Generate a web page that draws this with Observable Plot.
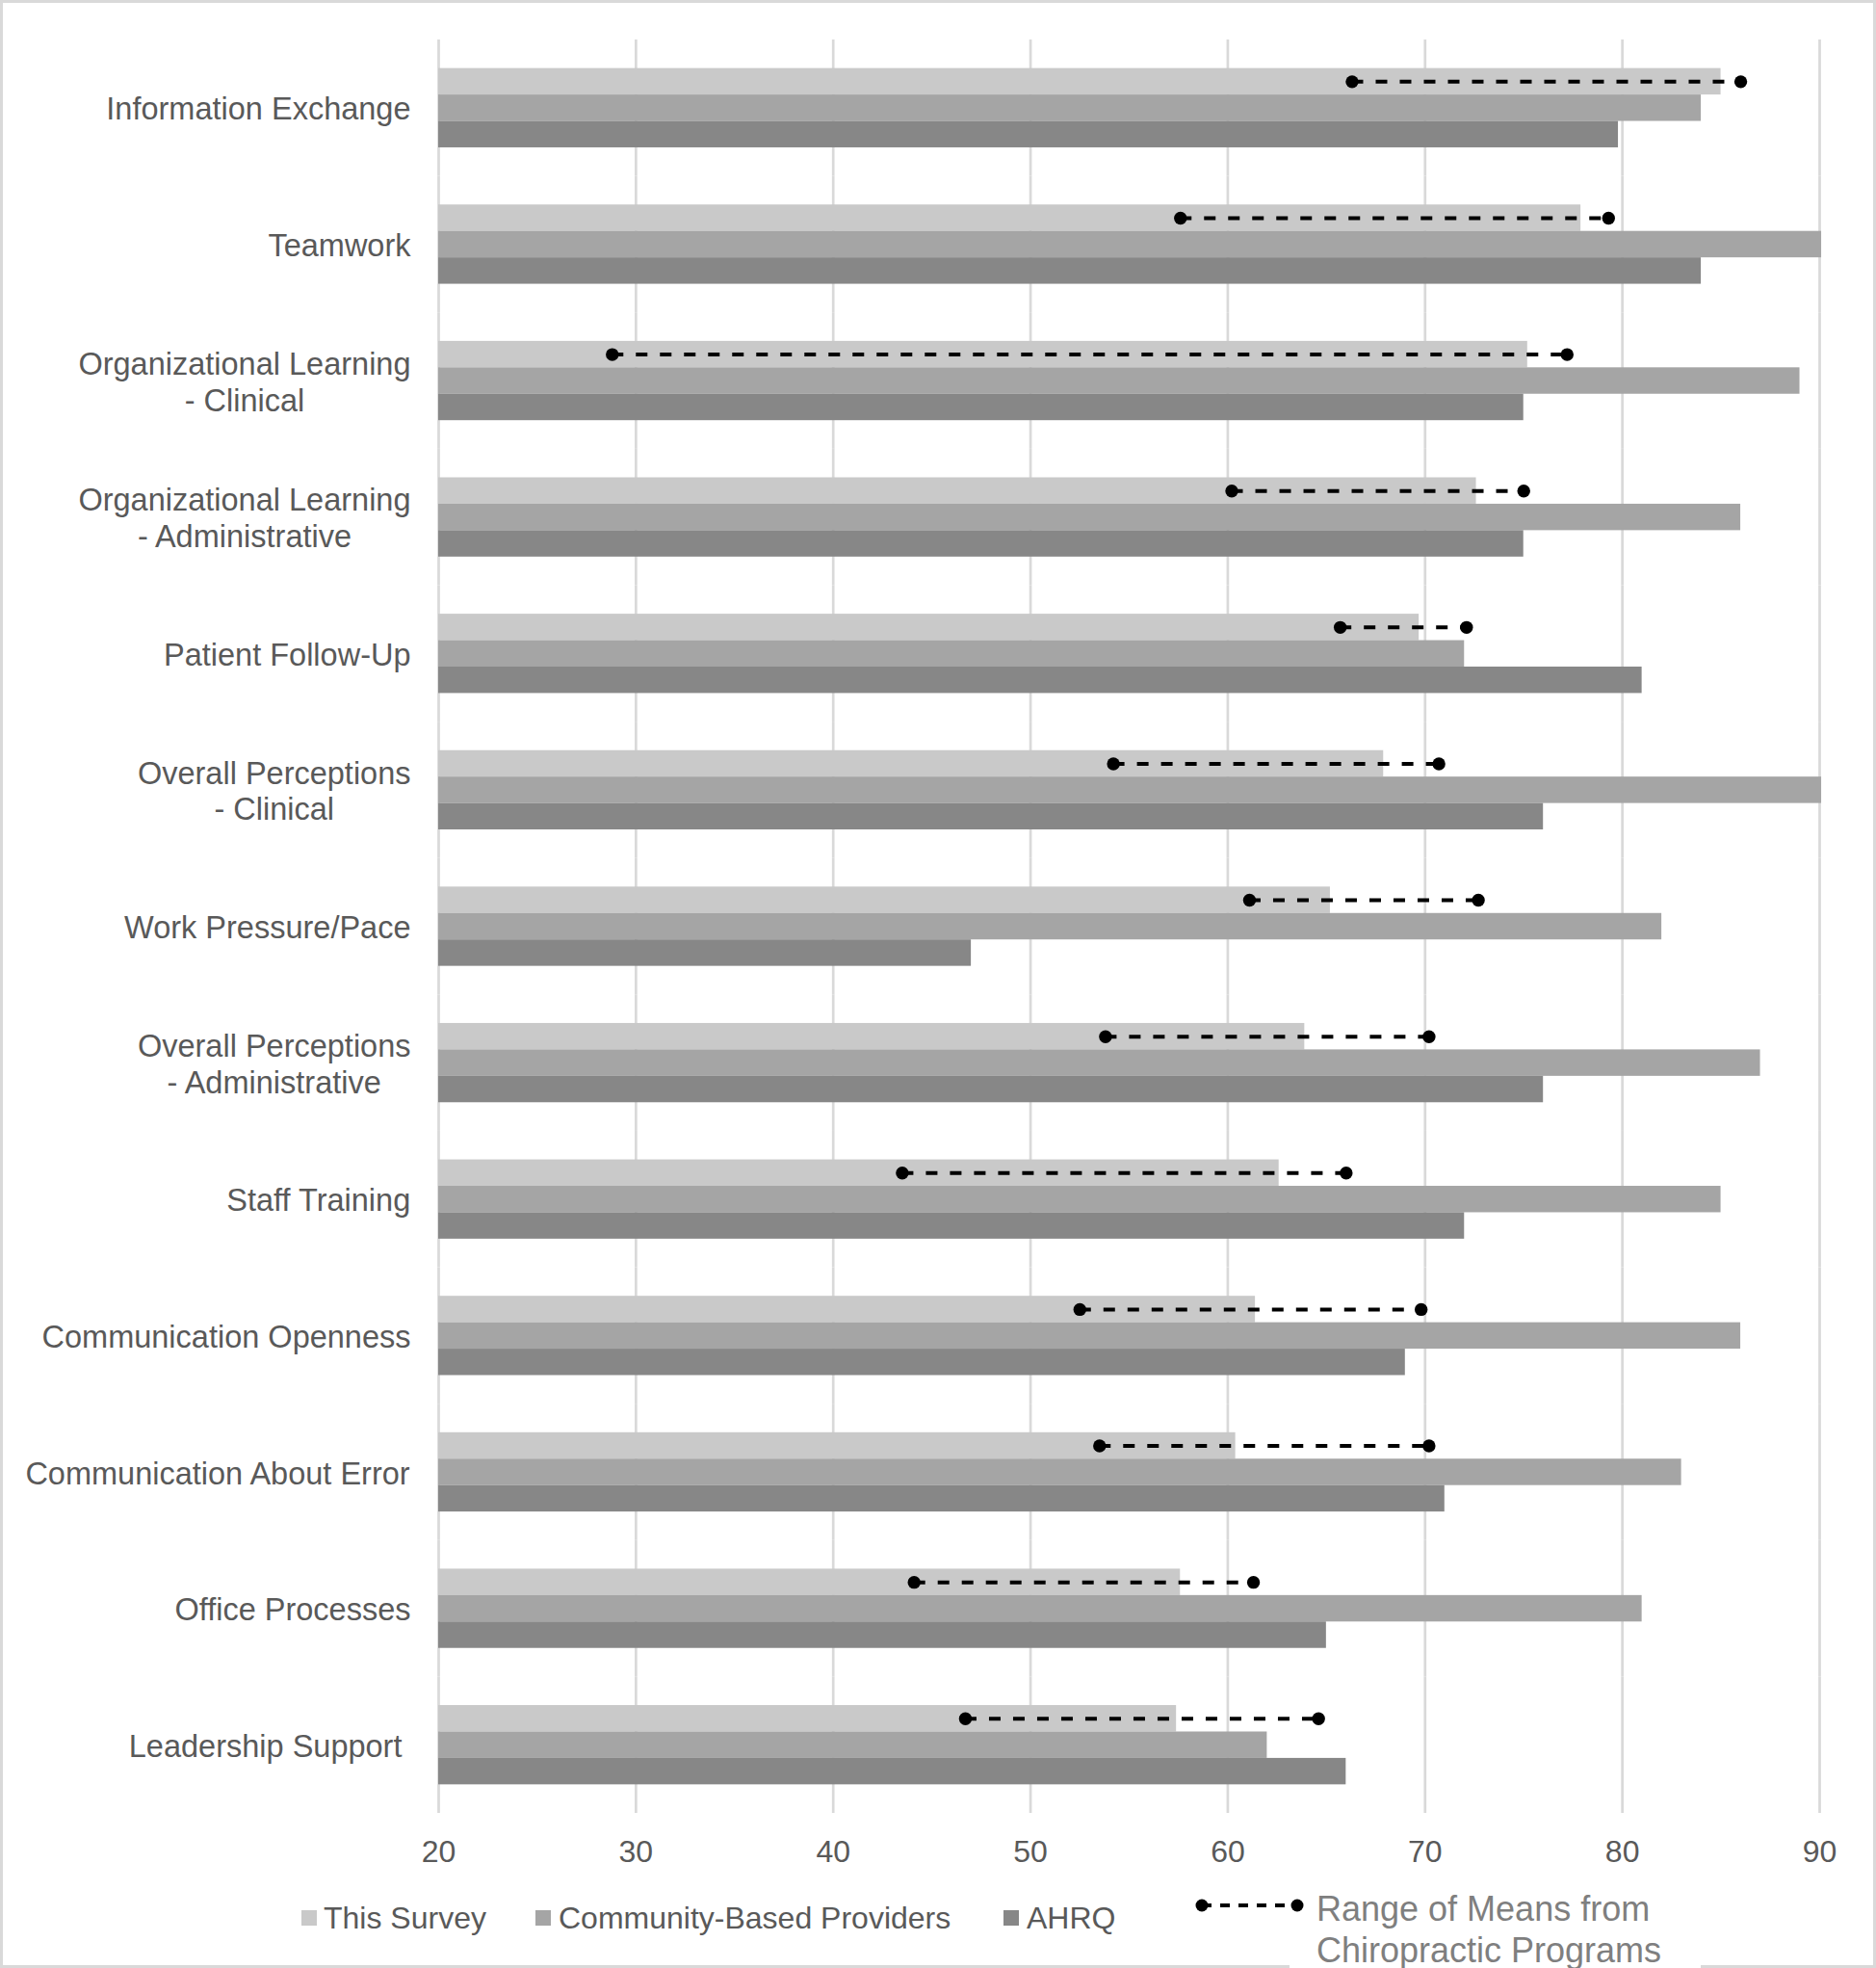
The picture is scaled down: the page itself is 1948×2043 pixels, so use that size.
<!DOCTYPE html>
<html>
<head>
<meta charset="utf-8">
<script src="https://cdn.jsdelivr.net/npm/d3@7"></script>
<script src="https://cdn.jsdelivr.net/npm/@observablehq/plot@0.6"></script>
<style>
  html, body { margin: 0; padding: 0; background: #fff; }
  #wrap { position: relative; width: 1948px; height: 2043px; overflow: hidden; background: #fff;
          font-family: 'Liberation Sans', Arial, sans-serif; }
  #chart { position: absolute; left: 0; top: 0; }
  .leg { position: absolute; white-space: nowrap; }
  .sw { position: absolute; width: 16px; height: 16px; }
  .lt { position: absolute; font-size: 32px; line-height: 32px; color: #595959; }
  #border { position: absolute; left: 0; top: 0; width: 1948px; height: 2043px; box-sizing: border-box;
            border: 3px solid #d9d9d9; pointer-events: none; }
</style>
</head>
<body>
<div id="wrap">
  <div id="chart"></div>
  <div id="border"></div>
  <div id="legend"></div>
</div>
<script>
// ---- data ----
const categories = [
  "Information Exchange",
  "Teamwork",
  "Organizational Learning - Clinical",
  "Organizational Learning - Administrative",
  "Patient Follow-Up",
  "Overall Perceptions - Clinical",
  "Work Pressure/Pace",
  "Overall Perceptions - Administrative",
  "Staff Training",
  "Communication Openness",
  "Communication About Error",
  "Office Processes",
  "Leadership Support"
];
const categoryLabels = [
  "Information Exchange",
  "Teamwork",
  "Organizational Learning\n- Clinical",
  "Organizational Learning\n- Administrative",
  "Patient Follow-Up",
  "Overall Perceptions\n- Clinical",
  "Work Pressure/Pace",
  "Overall Perceptions\n- Administrative",
  "Staff Training",
  "Communication Openness",
  "Communication About Error",
  "Office Processes",
  "Leadership Support\u00a0"
];
const series = ["This Survey", "Community-Based Providers", "AHRQ"];
const thisSurvey = [85.0, 77.9, 75.2, 72.6, 69.7, 67.9, 65.2, 63.9, 62.6, 61.4, 60.4, 57.6, 57.4];
const communityBased = [84.0, 90.1, 89.0, 86.0, 72.0, 90.1, 82.0, 87.0, 85.0, 86.0, 83.0, 81.0, 62.0];
const ahrq = [79.8, 84.0, 75.0, 75.0, 81.0, 76.0, 47.0, 76.0, 72.0, 69.0, 71.0, 65.0, 66.0];
const rangeLow = [66.3, 57.6, 28.8, 60.2, 65.7, 54.2, 61.1, 53.8, 43.5, 52.5, 53.5, 44.1, 46.7];
const rangeHigh = [86.0, 79.3, 77.2, 75.0, 72.1, 70.7, 72.7, 70.2, 66.0, 69.8, 70.2, 61.3, 64.6];
const xTicks = [20, 30, 40, 50, 60, 70, 80, 90];
const seriesColors = ["#c9c9c9", "#a5a5a5", "#878787"];
const rangeLabel = "Range of Means from\nChiropractic Programs";

// ---- tables ----
const seriesValues = [thisSurvey, communityBased, ahrq];
const rows = categories.flatMap((c, i) => series.map((s, j) => ({category: c, series: s, value: seriesValues[j][i]})));
const ranges = categories.map((c, i) => ({category: c, low: rangeLow[i], high: rangeHigh[i]}));

const fontFamily = "'Liberation Sans', Arial, sans-serif";
const labelSize = 32.5;
const ctx = document.createElement("canvas").getContext("2d");
ctx.font = labelSize + "px " + fontFamily;

const labelMarks = categories.map((c, i) => {
  const lines = categoryLabels[i].split("\n");
  const w1 = ctx.measureText(lines[0]).width;
  return Plot.text([{category: c, label: categoryLabels[i]}], {
    fy: "category", text: "label", frameAnchor: "left", textAnchor: "middle",
    dx: -29 - w1 / 2, lineHeight: 1.165, fontSize: labelSize, fill: "#595959"
  });
});

const chart = Plot.plot({
  width: 1948,
  height: 1950,
  marginLeft: 455,
  marginRight: 59,
  marginTop: 41,
  marginBottom: 68,
  style: {fontFamily, fontSize: "32px", color: "#595959", background: "transparent"},
  x: {domain: [xTicks[0], xTicks[xTicks.length - 1]], ticks: xTicks, tickSize: 0, tickPadding: 28, label: null, tickFormat: d => String(d)},
  y: {domain: series, paddingInner: 0, paddingOuter: 1.081, round: false, axis: null},
  fy: {domain: categories, padding: 0, round: false, axis: null},
  color: {domain: series, range: seriesColors},
  marks: [
    Plot.gridX(xTicks, {stroke: "#d9d9d9", strokeOpacity: 1, strokeWidth: 2.7}),
    Plot.barX(rows, {fy: "category", y: "series", x1: xTicks[0], x2: "value", fill: "series"}),
    Plot.ruleY(ranges, {fy: "category", y: () => series[0], x1: "low", x2: "high", stroke: "black", strokeWidth: 4, strokeDasharray: "12,13"}),
    Plot.dot(ranges, {fy: "category", y: () => series[0], x: "low", r: 6.7, fill: "black", stroke: "none"}),
    Plot.dot(ranges, {fy: "category", y: () => series[0], x: "high", r: 6.7, fill: "black", stroke: "none"}),
    ...labelMarks
  ]
});
document.getElementById("chart").appendChild(chart);

// ---- legend (HTML below the plot) ----
const legend = document.getElementById("legend");
const items = [
  {sw: 313, tx: 336},
  {sw: 556, tx: 580},
  {sw: 1042, tx: 1066}
];
series.forEach((s, i) => {
  const sw = document.createElement("div");
  sw.className = "sw";
  sw.style.left = items[i].sw + "px";
  sw.style.top = "1983px";
  sw.style.background = seriesColors[i];
  legend.appendChild(sw);
  const t = document.createElement("div");
  t.className = "lt leg";
  t.style.left = items[i].tx + "px";
  t.style.top = "1975px";
  t.textContent = s;
  legend.appendChild(t);
});
// white box behind the range label
const wb = document.createElement("div");
wb.style.cssText = "position:absolute;left:1339px;top:1995px;width:427px;height:48px;background:#fff;";
legend.appendChild(wb);
// line + dots sample
const ns = "http://www.w3.org/2000/svg";
const ls = document.createElementNS(ns, "svg");
ls.setAttribute("width", "130"); ls.setAttribute("height", "24");
ls.style.cssText = "position:absolute;left:1236px;top:1966px;";
const ln = document.createElementNS(ns, "line");
ln.setAttribute("x1", "12"); ln.setAttribute("x2", "111"); ln.setAttribute("y1", "12"); ln.setAttribute("y2", "12");
ln.setAttribute("stroke", "black"); ln.setAttribute("stroke-width", "4"); ln.setAttribute("stroke-dasharray", "10,9");
ls.appendChild(ln);
[12, 111].forEach(cx => {
  const c = document.createElementNS(ns, "circle");
  c.setAttribute("cx", cx); c.setAttribute("cy", "12"); c.setAttribute("r", "6.5"); c.setAttribute("fill", "black");
  ls.appendChild(c);
});
legend.appendChild(ls);
const rt = document.createElement("div");
rt.className = "leg";
rt.style.cssText = "position:absolute;left:1367px;top:1960px;font-size:36px;line-height:43px;color:#7f7f7f;white-space:pre;";
rt.textContent = rangeLabel;
legend.appendChild(rt);
</script>
</body>
</html>
